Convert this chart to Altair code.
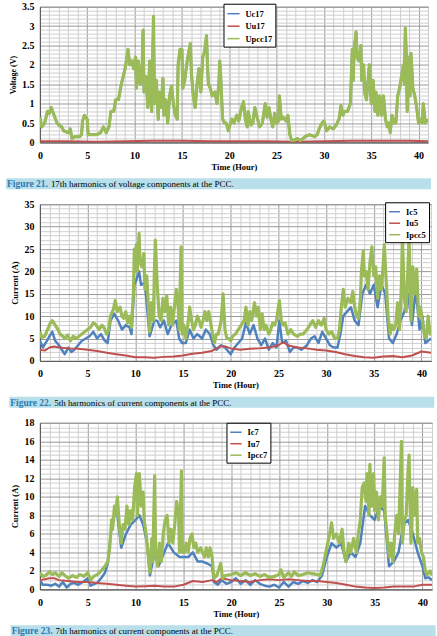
import altair as alt
import pandas as pd

FONT = "Liberation Serif"
BLUE, RED, GREEN = "#4F81BD", "#C0504D", "#9BBB59"
GRID_MAJOR, GRID_MINOR = "#9a9a9a", "#cfcfcf"
CAPTION_BG, CAPTION_BLUE = "#b9dfea", "#2b7cb3"

# ---------------- Figure 21: 17th harmonic voltages (hour, volts) ----------------
UPCC17 = [
    (0, 0.65), (0.2, 0.4), (0.5, 0.5), (0.8, 0.8), (1.0, 0.75), (1.2, 0.9), (1.5, 0.7),
    (1.8, 0.5), (2.0, 0.45), (2.3, 0.4), (2.5, 0.3), (3.0, 0.25), (3.2, 0.35), (3.4, 0.1),
    (3.7, 0.15), (4.2, 0.15), (4.4, 0.2), (4.5, 0.55), (4.7, 0.7), (5.0, 0.6), (5.1, 0.2),
    (5.5, 0.2), (6.0, 0.2), (6.4, 0.25), (6.7, 0.4), (7.0, 0.25), (7.3, 0.4), (7.5, 0.8),
    (7.8, 0.8), (8.0, 1.1), (8.3, 1.1), (8.6, 1.5), (8.8, 1.7), (9.0, 1.9), (9.2, 2.2),
    (9.3, 2.4), (9.5, 2.0), (9.7, 2.1), (9.9, 1.9), (10.1, 2.2), (10.2, 1.4), (10.4, 2.1),
    (10.6, 1.5), (10.8, 1.9), (10.9, 2.9), (11.0, 1.3), (11.2, 1.7), (11.4, 0.9), (11.5, 1.5),
    (11.6, 2.1), (11.8, 0.8), (12.0, 3.25), (12.1, 1.0), (12.3, 1.6), (12.5, 0.6), (12.6, 1.3),
    (12.8, 0.9), (13.0, 1.65), (13.1, 0.7), (13.3, 1.1), (13.5, 0.5), (13.7, 1.2), (13.9, 1.45),
    (14.1, 1.0), (14.3, 0.7), (14.5, 0.6), (14.6, 2.0), (14.8, 2.4), (15.0, 2.4), (15.1, 1.4),
    (15.3, 1.6), (15.5, 2.0), (15.7, 2.3), (15.9, 2.55), (16.0, 1.8), (16.2, 1.2), (16.4, 0.9),
    (16.6, 1.5), (16.8, 1.9), (17.0, 1.3), (17.2, 2.2), (17.4, 2.35), (17.6, 2.75), (17.7, 2.0),
    (17.8, 1.5), (18.0, 1.4), (18.2, 1.2), (18.5, 1.3), (18.7, 1.0), (18.9, 1.5), (19.0, 2.1),
    (19.1, 1.7), (19.3, 0.6), (19.5, 0.5), (19.7, 0.5), (19.9, 0.3), (20.0, 0.4), (20.3, 0.6),
    (20.5, 0.5), (20.8, 0.7), (21.0, 0.55), (21.3, 0.9), (21.5, 1.05), (21.7, 0.6), (21.9, 0.4),
    (22.0, 0.8), (22.3, 0.45), (22.5, 0.5), (22.7, 0.9), (23.0, 0.6), (23.2, 0.4), (23.5, 0.5),
    (23.8, 1.0), (24.0, 0.65), (24.2, 0.9), (24.4, 0.6), (24.6, 0.4), (24.8, 0.75), (25.0, 0.5),
    (25.2, 0.55), (25.3, 1.2), (25.5, 0.6), (25.7, 0.65), (26.0, 0.55), (26.2, 0.7), (26.4, 0.2),
    (26.6, 0.05), (26.8, 0.05), (27.2, 0.1), (27.5, 0.05), (27.8, 0.1), (28.0, 0.15), (28.5, 0.2),
    (29.0, 0.15), (29.3, 0.2), (29.5, 0.35), (29.8, 0.5), (30.0, 0.55), (30.3, 0.3), (30.6, 0.4),
    (31.0, 0.35), (31.3, 0.45), (31.6, 0.6), (31.8, 0.95), (32.0, 0.7), (32.2, 0.8), (32.5, 0.8),
    (32.8, 1.0), (33.0, 2.4), (33.1, 1.6), (33.2, 2.4), (33.4, 2.85), (33.5, 2.2), (33.7, 2.1),
    (33.9, 2.5), (34.0, 1.6), (34.2, 2.0), (34.3, 1.3), (34.5, 1.1), (34.7, 1.7), (34.8, 2.0),
    (35.0, 1.0), (35.2, 1.6), (35.4, 0.8), (35.5, 1.3), (35.7, 0.7), (35.9, 1.2), (36.1, 0.7),
    (36.3, 1.2), (36.5, 0.6), (36.7, 0.4), (36.9, 0.5), (37.0, 0.25), (37.2, 0.7), (37.4, 0.5),
    (37.6, 0.5), (37.8, 1.2), (38.0, 1.4), (38.2, 1.7), (38.4, 2.0), (38.5, 1.5), (38.6, 2.95),
    (38.7, 2.3), (38.8, 0.8), (38.9, 1.8), (39.0, 2.2), (39.1, 1.2), (39.2, 2.3), (39.4, 1.4),
    (39.6, 1.2), (39.8, 0.9), (40.0, 0.5), (40.2, 0.6), (40.4, 0.5), (40.5, 1.0), (40.7, 0.5),
    (41.0, 0.6),
]
# Uc17 runs on top of Upcc17 at this scale
UC17 = UPCC17
UU17 = [
    (0, 0.03), (3, 0.03), (6, 0.02), (9, 0.03), (12, 0.04), (15, 0.04), (18, 0.03),
    (21, 0.03), (24, 0.03), (27, 0.02), (30, 0.03), (33, 0.04), (36, 0.04), (39, 0.04), (41, 0.03),
]

# ---------------- Figure 22: 5th harmonic currents (hour, amps) ----------------
IPCC5 = [
    (0, 6.5), (0.2, 5.2), (0.5, 5.5), (0.8, 7), (1.1, 8.5), (1.3, 9), (1.6, 8), (1.9, 7),
    (2.1, 6), (2.4, 5.5), (2.6, 5), (2.9, 5.8), (3.2, 4.5), (3.5, 5.5), (3.8, 5), (4.1, 5.5),
    (4.4, 6), (4.7, 6.5), (5.0, 7), (5.3, 7.5), (5.6, 8.5), (5.9, 8), (6.2, 7), (6.5, 8),
    (6.7, 7.5), (7.0, 6), (7.2, 7), (7.4, 10), (7.7, 11.5), (7.9, 13.5), (8.1, 11), (8.4, 12),
    (8.6, 10), (8.8, 9.5), (9.0, 11), (9.2, 8.5), (9.4, 10), (9.6, 7.5), (9.8, 15), (9.9, 25),
    (10.0, 20), (10.1, 26), (10.2, 20), (10.4, 28.5), (10.5, 22), (10.7, 21), (10.9, 24),
    (11.0, 16), (11.2, 19), (11.4, 11), (11.5, 6.5), (11.7, 13), (11.9, 9), (12.0, 20),
    (12.1, 27), (12.3, 17), (12.5, 10), (12.7, 9), (12.9, 14), (13.1, 11), (13.3, 14.5),
    (13.5, 8), (13.7, 12), (13.9, 8), (14.1, 12), (14.3, 16), (14.5, 12), (14.6, 7),
    (14.8, 25.5), (14.9, 6), (15.1, 8), (15.3, 5), (15.5, 8), (15.7, 12), (15.9, 9), (16.1, 7),
    (16.3, 8), (16.5, 10), (16.7, 9), (16.9, 7.5), (17.1, 9), (17.3, 11), (17.5, 9), (17.7, 11),
    (17.9, 8.5), (18.1, 6), (18.3, 4), (18.5, 6), (18.7, 6), (19.0, 9), (19.2, 15), (19.4, 7),
    (19.6, 5), (19.8, 5), (20.0, 4.5), (20.2, 5.5), (20.5, 6), (20.8, 7), (21.1, 8), (21.4, 9),
    (21.6, 12), (21.8, 8), (22.0, 11), (22.2, 9), (22.5, 13), (22.7, 10), (22.9, 12), (23.1, 7),
    (23.3, 10.5), (23.5, 7), (23.7, 8), (24.0, 6), (24.2, 7), (24.4, 8.5), (24.6, 8), (24.8, 9),
    (25.1, 13.5), (25.3, 9), (25.5, 8), (25.7, 8.5), (26.0, 6), (26.3, 7), (26.6, 6), (27.0, 5.5),
    (27.3, 6), (27.6, 6), (28.0, 7), (28.3, 8), (28.6, 9), (28.9, 7.5), (29.2, 9), (29.5, 8),
    (29.8, 9.5), (30.0, 7), (30.3, 6), (30.6, 6.5), (30.9, 5), (31.2, 5), (31.4, 7), (31.6, 12),
    (31.8, 16), (32.0, 12), (32.3, 14), (32.6, 13), (32.8, 15.5), (33.0, 12), (33.2, 10),
    (33.4, 9.5), (33.6, 14), (33.7, 20), (33.9, 24.5), (34.0, 19), (34.2, 20), (34.4, 16),
    (34.6, 22), (34.8, 25.5), (35.0, 19), (35.2, 21), (35.4, 14), (35.6, 19), (35.8, 16),
    (36.0, 22), (36.1, 26), (36.3, 18), (36.5, 10), (36.7, 6), (36.9, 8), (37.1, 7), (37.3, 8),
    (37.5, 13), (37.7, 7), (37.9, 17), (38.0, 28), (38.2, 14), (38.4, 11), (38.6, 22), (38.7, 28),
    (38.9, 9), (39.1, 21), (39.3, 15), (39.5, 20.5), (39.7, 10), (39.9, 12), (40.1, 9), (40.3, 6),
    (40.5, 5), (40.7, 10), (40.9, 6), (41.0, 7),
]
IC5 = [
    (0, 4.5), (0.3, 3), (0.6, 4), (1.0, 5.5), (1.3, 6.5), (1.6, 4.5), (2.0, 3.5), (2.3, 2.5),
    (2.6, 1.5), (3.0, 3), (3.3, 2), (3.6, 2.5), (4.0, 3.5), (4.4, 4.5), (4.8, 5), (5.2, 5.5),
    (5.6, 6.5), (6.0, 5), (6.4, 6), (6.8, 4.5), (7.1, 4), (7.4, 9), (7.8, 10.5), (8.2, 9),
    (8.6, 7), (9.0, 8), (9.4, 7.5), (9.6, 6), (9.9, 17), (10.1, 18), (10.4, 20), (10.6, 17),
    (11.0, 17.5), (11.4, 8), (11.5, 5.5), (12.0, 9), (12.3, 9), (12.6, 7.5), (13.0, 9),
    (13.4, 6), (13.8, 8), (14.3, 9), (14.6, 5), (14.9, 4), (15.3, 4), (15.7, 7), (16.1, 5),
    (16.5, 6), (17.0, 5), (17.4, 7), (17.8, 6), (18.2, 3.5), (18.5, 2.5), (19.0, 3.5),
    (19.4, 3), (19.8, 2), (20.0, 1.5), (20.4, 3), (20.8, 4), (21.2, 5), (21.6, 8.5), (22.0, 6),
    (22.4, 8), (22.8, 5), (23.2, 3.5), (23.6, 5), (24.0, 2.5), (24.4, 4), (24.8, 3), (25.1, 9),
    (25.4, 4), (25.8, 4.5), (26.2, 2), (26.6, 3), (27.0, 3), (27.4, 2.5), (28.0, 3.5),
    (28.4, 5), (28.8, 5.5), (29.2, 4), (29.6, 6.5), (30.0, 5), (30.4, 3.5), (30.8, 3),
    (31.2, 3), (31.5, 6), (31.8, 10), (32.2, 11), (32.6, 12), (33.0, 9), (33.4, 8), (33.8, 15),
    (34.2, 17), (34.6, 15), (35.0, 17), (35.4, 12), (35.8, 17), (36.2, 15), (36.6, 5), (37.0, 4),
    (37.4, 6), (37.8, 9), (38.2, 11), (38.6, 15), (39.0, 8), (39.4, 16), (39.8, 7), (40.1, 10),
    (40.4, 4), (40.7, 4.5), (41.0, 5),
]
IU5 = [
    (0, 2.5), (0.5, 2.3), (1, 3), (1.5, 3.2), (2, 3), (3, 2.8), (4, 2.7), (5, 2.5), (6, 2.2),
    (7, 1.8), (8, 1.5), (9, 1.2), (10, 0.8), (11, 0.8), (12, 0.7), (13, 0.9), (14, 1.0),
    (15, 1.2), (16, 1.6), (17, 1.8), (18, 2.2), (18.5, 2.8), (19, 3.3), (19.5, 3.2), (20, 2.8),
    (21, 2.5), (22, 2.7), (23, 2.8), (24, 3.0), (24.5, 3.2), (25, 3.5), (25.5, 4.2), (26, 3.5),
    (27, 3.0), (28, 2.8), (29, 2.5), (30, 2.3), (31, 2.0), (32, 1.5), (33, 1.1), (34, 0.8),
    (35, 0.7), (36, 1.0), (37, 1.1), (38, 0.8), (39, 1.2), (40, 2.1), (41, 1.8),
]

# ---------------- Figure 23: 7th harmonic currents (hour, amps) ----------------
IPCC7 = [
    (0, 1.8), (0.3, 1.4), (0.6, 1.5), (1.0, 1.9), (1.3, 1.6), (1.6, 1.8), (2.0, 1.4), (2.3, 1.8),
    (2.6, 1.5), (3.0, 1.2), (3.4, 1.5), (3.8, 1.3), (4.2, 1.6), (4.6, 1.4), (5.0, 1.8), (5.3, 1.0),
    (5.6, 1.4), (6.0, 1.6), (6.4, 2.0), (6.8, 2.5), (7.1, 3), (7.3, 4.5), (7.5, 7.5), (7.6, 6.5),
    (7.8, 9), (7.9, 8), (8.1, 10), (8.3, 7), (8.5, 5), (8.7, 7), (8.9, 6.5), (9.1, 9), (9.3, 7),
    (9.5, 8.5), (9.7, 7.5), (9.9, 11), (10.1, 12.5), (10.2, 8), (10.4, 12.5), (10.6, 9),
    (10.8, 10.5), (10.9, 7.5), (11.1, 6), (11.3, 4), (11.5, 1.8), (11.7, 5.5), (11.8, 3),
    (12.0, 12.3), (12.1, 4), (12.3, 2.5), (12.5, 5), (12.7, 3), (12.9, 6), (13.1, 7.5), (13.3, 8),
    (13.5, 5), (13.7, 6.5), (13.9, 5), (14.1, 7), (14.3, 9.5), (14.5, 8), (14.6, 4), (14.8, 12.8),
    (14.9, 4), (15.1, 4), (15.3, 5), (15.5, 4), (15.7, 5.5), (15.9, 6), (16.1, 4.5), (16.3, 5),
    (16.5, 4), (16.8, 4.5), (17.0, 4), (17.2, 3.5), (17.4, 4.5), (17.6, 3.5), (17.8, 4.5),
    (18.0, 3.5), (18.2, 1.2), (18.5, 1.5), (18.9, 2.8), (19.1, 1.2), (19.4, 1.5), (20.0, 1.6),
    (20.5, 1.8), (21.0, 1.5), (21.5, 1.8), (22.0, 1.5), (22.5, 1.7), (23.0, 1.4), (23.5, 1.6),
    (24.0, 1.3), (24.5, 1.4), (25.0, 1.6), (25.2, 2.1), (25.5, 1.3), (26.0, 1.8), (26.3, 1.4),
    (26.6, 1.9), (27.0, 1.5), (27.5, 1.6), (28.0, 1.8), (28.5, 1.7), (29.0, 1.6), (29.3, 1.5),
    (29.6, 2.5), (29.9, 4), (30.1, 5), (30.3, 6), (30.5, 7.2), (30.7, 5.5), (31.0, 6), (31.3, 5),
    (31.6, 6.5), (31.8, 4), (32.0, 3), (32.3, 5), (32.5, 4), (32.8, 5.5), (33.1, 4), (33.3, 6),
    (33.5, 7.5), (33.7, 11), (33.9, 11.5), (34.1, 9.5), (34.2, 12.5), (34.4, 8), (34.5, 13.5),
    (34.7, 9), (34.9, 12.5), (35.0, 8.5), (35.2, 10.5), (35.4, 7.5), (35.6, 10), (35.8, 9),
    (36.0, 14.2), (36.1, 8), (36.3, 6), (36.5, 3.5), (36.7, 5), (36.9, 3), (37.1, 6), (37.3, 8),
    (37.5, 6), (37.6, 9), (37.8, 16), (37.9, 5), (38.1, 7.5), (38.3, 8), (38.5, 13), (38.6, 14.5),
    (38.8, 5), (39.0, 11), (39.2, 8), (39.4, 10.8), (39.5, 5), (39.7, 5.5), (39.9, 4), (40.1, 3.5),
    (40.3, 2), (40.5, 1.6), (40.8, 2), (41.0, 1.5),
]
IC7 = [
    (0, 1.0), (0.3, 0.5), (0.8, 0.5), (1.2, 0.4), (1.6, 0.6), (2.0, 0.3), (2.4, 0.8), (2.8, 0.2),
    (3.2, 0.6), (3.6, 0.7), (4.0, 0.5), (4.5, 0.8), (5.0, 1.2), (5.3, 0.4), (5.7, 0.6), (6.0, 0.7),
    (6.4, 1.2), (6.8, 1.8), (7.1, 2.8), (7.4, 6), (7.8, 8), (8.1, 8), (8.5, 4.5), (9.0, 6),
    (9.5, 7), (10.0, 7.5), (10.4, 8), (10.8, 7), (11.2, 5), (11.5, 1.5), (12.0, 4), (12.4, 2.5),
    (13.0, 4), (13.4, 5), (14.0, 4), (14.6, 3.5), (15.0, 3.5), (15.5, 3.5), (16.0, 4), (16.5, 3),
    (17.0, 3), (17.5, 2.8), (18.0, 2.5), (18.2, 0.8), (18.6, 0.5), (19.0, 1), (19.5, 0.6),
    (20.0, 0.8), (20.5, 1.2), (21.0, 0.6), (21.5, 1.0), (22.0, 0.5), (22.5, 1.0), (23.0, 0.6),
    (23.5, 0.4), (24.0, 0.3), (24.5, 0.5), (25.0, 0.2), (25.5, 0.8), (26.0, 0.3), (26.5, 0.8),
    (27.0, 0.6), (27.5, 0.9), (28.0, 0.7), (28.5, 1.0), (29.0, 0.8), (29.5, 1.5), (30.0, 3.5),
    (30.5, 5), (31.0, 4.5), (31.5, 5), (32.0, 3), (32.5, 4), (33.0, 3.5), (33.5, 5), (34.0, 9),
    (34.5, 8), (35.0, 7.5), (35.5, 9), (36.0, 8.5), (36.5, 2.5), (37.0, 3), (37.5, 4), (38.0, 7),
    (38.5, 7.5), (39.0, 6), (39.5, 4), (40.0, 2.5), (40.3, 1.2), (40.6, 1.3), (41.0, 1.0),
]
IU7 = [
    (0, 1.0), (0.5, 1.1), (1, 1.2), (1.5, 1.2), (2, 1.0), (3, 0.9), (4, 0.8), (5, 0.8), (6, 0.7),
    (7, 0.6), (8, 0.5), (9, 0.4), (10, 0.3), (11, 0.35), (12, 0.4), (13, 0.3), (14, 0.3),
    (15, 0.5), (16, 0.9), (17, 0.8), (18, 1.0), (18.5, 0.8), (19, 1.2), (20, 1.0), (21, 0.9),
    (22, 0.8), (23, 1.0), (24, 1.1), (25, 1.0), (26, 1.1), (27, 1.0), (28, 0.9), (29, 0.9),
    (30, 0.8), (31, 0.7), (32, 0.5), (33, 0.3), (34, 0.2), (35, 0.15), (36, 0.2), (37, 0.3),
    (38, 0.3), (39, 0.3), (40, 0.5), (41, 0.5),
]

X_TICKS = list(range(0, 42))
CAPTION_W = 426


def panel(series, ymax, ystep, major_test, ytitle, ytitle_size, width, height,
          legend_xy, symbol_size, left, fig_no, fig_text):
    names = [n for n, _ in series]
    color = alt.Color(
        "s:N",
        scale=alt.Scale(domain=names, range=[BLUE, RED, GREEN]),
        legend=alt.Legend(
            title=None, orient="none", legendX=legend_xy[0], legendY=legend_xy[1],
            fillColor="white", strokeColor="black", padding=3, cornerRadius=0,
            symbolType="stroke", symbolStrokeWidth=1.5, symbolSize=symbol_size,
            labelFont=FONT, labelFontWeight="bold", labelFontSize=8.5, labelColor="black",
            labelOffset=5, rowPadding=0.5,
        ),
    )
    n_y = int(round(ymax / ystep))
    y_ticks = [round(i * ystep, 2) for i in range(n_y + 1)]
    x_axis = alt.Axis(
        values=X_TICKS, title="Time (Hour)", format="~g",
        labelExpr="datum.value % 5 === 0 ? datum.label : ''",
        gridColor=alt.condition("datum.value % 5 === 0", alt.value(GRID_MAJOR), alt.value(GRID_MINOR)),
        ticks=False, labelFlush=False, labelOverlap=False, labelPadding=8, titlePadding=2,
        domainColor="#555555",
    )
    y_axis = alt.Axis(
        values=y_ticks, title=ytitle, format="~g", titleFontSize=ytitle_size,
        labelExpr=f"({major_test}) ? datum.label : ''",
        gridColor=alt.condition(major_test, alt.value(GRID_MAJOR), alt.value(GRID_MINOR)),
        ticks=False, labelOverlap=False, labelPadding=6, titlePadding=4,
        domainColor="#555555",
    )
    xs = alt.Scale(domain=[0, 41], nice=False, zero=False)
    ys = alt.Scale(domain=[0, ymax], nice=False)
    layers = []
    for (name, pts), w in zip(series, [2.5, 2.0, 3.2]):
        df = pd.DataFrame(pts, columns=["t", "v"])
        df["s"] = name
        layers.append(
            alt.Chart(df).mark_line(strokeWidth=w, strokeJoin="round", clip=True).encode(
                x=alt.X("t:Q", scale=xs, axis=x_axis),
                y=alt.Y("v:Q", scale=ys, axis=y_axis),
                color=color,
                order="t:Q",
            )
        )

    # caption strip below the axis title, spanning the full block width
    cap = alt.Chart(pd.DataFrame({"fig": [f"Figure {fig_no}."], "txt": [fig_text]}))
    top = height + 36
    layers.append(
        cap.mark_rect(color=CAPTION_BG).encode(
            x=alt.value(-left), x2=alt.value(-left + CAPTION_W),
            y=alt.value(top), y2=alt.value(top + 11),
        )
    )
    layers.append(
        cap.mark_text(
            align="left", baseline="middle", font=FONT, fontSize=9.5, fontWeight="bold",
            color=CAPTION_BLUE,
        ).encode(x=alt.value(-left + 1), y=alt.value(top + 6), text="fig:N")
    )
    layers.append(
        cap.mark_text(
            align="left", baseline="middle", font=FONT, fontSize=9, color="black"
        ).encode(x=alt.value(-left + 45), y=alt.value(top + 6), text="txt:N")
    )
    return alt.layer(*layers).properties(width=width, height=height)


p1 = panel(
    [("Uc17", UC17), ("Uu17", UU17), ("Upcc17", UPCC17)],
    3.5, 0.1, "abs(datum.value * 2 - round(datum.value * 2)) < 0.001",
    "Voltage (V)", 8, 389, 136, (184, -3), 150, 34,
    21, "17th harmonics of voltage components at the PCC.",
)
p2 = panel(
    [("Ic5", IC5), ("Iu5", IU5), ("Ipcc5", IPCC5)],
    35, 1, "datum.value % 5 === 0",
    "Current (A)", 8.5, 392, 157, (346, -2), 120, 30.7,
    22, "5th harmonics of current components at the PCC.",
)
p3 = panel(
    [("Ic7", IC7), ("Iu7", IU7), ("Ipcc7", IPCC7)],
    18, 0.5, "datum.value % 2 === 0",
    "Current (A)", 8.5, 393, 167, (187, 0), 130, 29.3,
    23, "7th harmonics of current components at the PCC.",
)

chart = (
    alt.concat(p1, p2, p3, columns=1, spacing=8, align="none")
    .resolve_scale(color="independent")
    .properties(padding={"left": 5, "top": 0, "right": 0, "bottom": 0}, background="white")
    .configure_axis(
        labelFont=FONT, titleFont=FONT, labelFontWeight="bold", titleFontWeight="bold",
        labelFontSize=10, titleFontSize=8.5, labelColor="black", titleColor="black",
        gridWidth=1,
    )
    .configure_view(stroke="#8a8a8a")
)

chart.save("out.html", embed_options={"renderer": "svg", "actions": False})
